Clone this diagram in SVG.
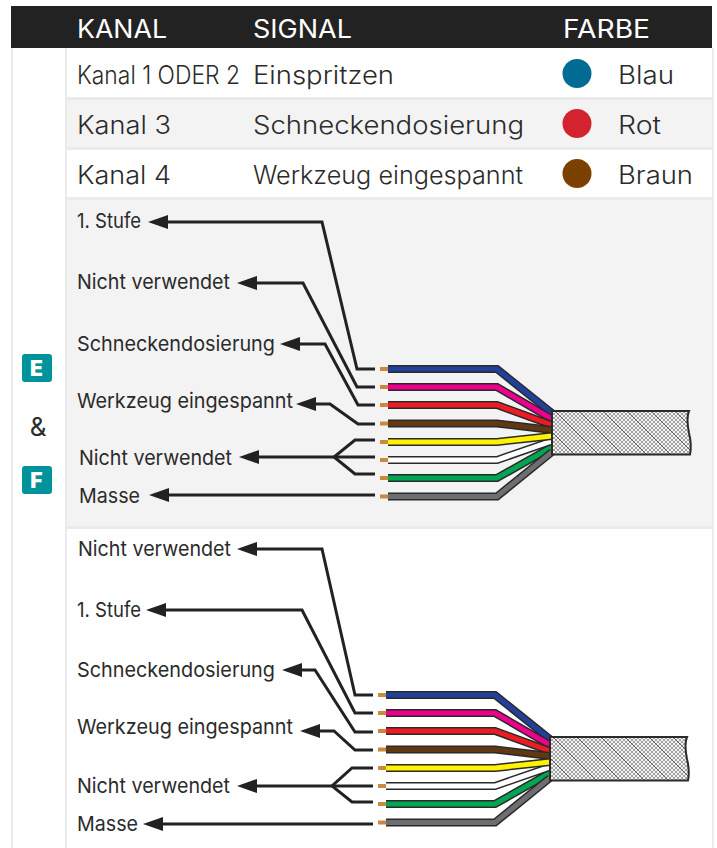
<svg xmlns="http://www.w3.org/2000/svg" width="717" height="848" viewBox="0 0 717 848">
<style>
text{font-family:"Inter","Liberation Sans",sans-serif;fill:#2b2b2b;font-weight:300}
.h{font-size:25px;fill:#fff;font-weight:400}
.r{font-size:25px}
.l{font-size:20.500px;font-weight:400}
.lead{fill:none;stroke:#222;stroke-width:3}
.tip{fill:#c98a3e}
.w0{fill:none;stroke:#2a2a2a;stroke-width:8;stroke-linejoin:miter}
.w1{fill:none;stroke-width:5}
.cab{fill:url(#hatch);stroke:#2a2a2a;stroke-width:2}
.line{fill:#ebebeb}
.badge{fill:#00939b}
.bt{fill:#fff;font-weight:900;font-size:21px}
</style>
<defs>
<marker id="arr" markerUnits="userSpaceOnUse" markerWidth="20" markerHeight="14" refX="8" refY="7" orient="0" viewBox="0 0 20 14"><path d="M20 0L0 7L20 14Z" fill="#222"/></marker>
<pattern id="hatch" patternUnits="userSpaceOnUse" width="24" height="24">
<rect width="24" height="24" fill="#f4f4f4"/>
<path d="M4 0L0 4M8 0L0 8M12 0L0 12M16 0L0 16M20 0L0 20M24 0L0 24M24 4L4 24M24 8L8 24M24 12L12 24M24 16L16 24M24 20L20 24" stroke="#8a8a8a" stroke-width=".8"/>
<path d="M0 20L4 24M0 16L8 24M0 12L12 24M0 8L16 24M0 4L20 24M0 0L24 24M4 0L24 20M8 0L24 16M12 0L24 12M16 0L24 8M20 0L24 4" stroke="#8a8a8a" stroke-width=".8"/>
<path d="M0 0L24 24M-12 12L12 36M12 -12L36 12" stroke="#4a4a4a" stroke-width=".8"/>
</pattern>
<g id="cable">
<path class="w0" d="M388 369H497L552 413"/><path class="w1" stroke="#21409a" d="M388 369H497L552 413"/>
<path class="w0" d="M388 387H497L552 419"/><path class="w1" stroke="#ec008c" d="M388 387H497L552 419"/>
<path class="w0" d="M388 405H497L552 425"/><path class="w1" stroke="#ed1c24" d="M388 405H497L552 425"/>
<path class="w0" d="M388 423.500H497L552 430"/><path class="w1" stroke="#603913" d="M388 423.500H497L552 430"/>
<path class="w0" d="M388 478H497L552 447"/><path class="w1" stroke="#00a651" d="M388 478H497L552 447"/>
<path class="w0" d="M388 496.500H497L552 452"/><path class="w1" stroke="#6d6e71" d="M388 496.500H497L552 452"/>
<path class="w0" d="M388 460H497L552 441"/><path class="w1" stroke="#fff" d="M388 460H497L552 441"/>
<path class="w0" d="M388 442H497L552 436"/><path class="w1" stroke="#fff200" d="M388 442H497L552 436"/>
<rect class="tip" x="380" y="367" width="8" height="4"/><rect class="tip" x="380" y="385" width="8" height="4"/><rect class="tip" x="380" y="403" width="8" height="4"/><rect class="tip" x="380" y="421.500" width="8" height="4"/><rect class="tip" x="380" y="440" width="8" height="4"/><rect class="tip" x="380" y="458" width="8" height="4"/><rect class="tip" x="380" y="476" width="8" height="4"/><rect class="tip" x="380" y="494.500" width="8" height="4"/>
<path class="cab" d="M552 411H689Q686 418 689 433Q692 445 690 454.500H552Z"/>
</g>
</defs>
<rect width="717" height="848" fill="#fff"/>
<g id="table">
<rect class="line" x="11" y="48" width="2" height="800"/>
<rect class="line" x="65" y="48" width="2" height="800"/>
<rect class="line" x="712" y="48" width="2" height="800"/>
<rect class="line" x="67" y="97" width="645" height="3"/>
<rect x="67" y="100" width="645" height="47" fill="#f3f3f3"/>
<rect class="line" x="67" y="147" width="645" height="3"/>
<rect class="line" x="67" y="197" width="645" height="3"/>
<rect x="67" y="200" width="645" height="326" fill="#f3f3f3"/>
<rect class="line" x="67" y="526" width="645" height="3"/>
<rect x="11" y="6" width="701" height="42" fill="#222"/>
<text class="h" x="77" y="38" textLength="90" lengthAdjust="spacingAndGlyphs">KANAL</text>
<text class="h" x="253" y="38" textLength="99" lengthAdjust="spacingAndGlyphs">SIGNAL</text>
<text class="h" x="563" y="38" textLength="87" lengthAdjust="spacingAndGlyphs">FARBE</text>
<text class="r" x="77" y="84" textLength="163" lengthAdjust="spacingAndGlyphs">Kanal 1 ODER 2</text>
<text class="r" x="253" y="84" textLength="141" lengthAdjust="spacingAndGlyphs">Einspritzen</text>
<text class="r" x="618" y="84" textLength="56" lengthAdjust="spacingAndGlyphs">Blau</text>
<text class="r" x="77" y="134" textLength="94" lengthAdjust="spacingAndGlyphs">Kanal 3</text>
<text class="r" x="253" y="134" textLength="271" lengthAdjust="spacingAndGlyphs">Schneckendosierung</text>
<text class="r" x="618" y="134" textLength="43" lengthAdjust="spacingAndGlyphs">Rot</text>
<text class="r" x="77" y="184" textLength="94" lengthAdjust="spacingAndGlyphs">Kanal 4</text>
<text class="r" x="253" y="184" textLength="270" lengthAdjust="spacingAndGlyphs">Werkzeug eingespannt</text>
<text class="r" x="618" y="184" textLength="75" lengthAdjust="spacingAndGlyphs">Braun</text>
<circle cx="577" cy="73.500" r="14.500" fill="#006c93"/>
<circle cx="577" cy="123.500" r="14.500" fill="#d2232e"/>
<circle cx="577" cy="173.500" r="14.500" fill="#7c4000"/>
</g>
<g id="badges">
<rect class="badge" x="22" y="354" width="30" height="28" rx="3"/>
<text class="bt" x="36.500" y="376" text-anchor="middle">E</text>
<text x="38" y="436" text-anchor="middle" style="font-size:26px;font-weight:400">&amp;</text>
<rect class="badge" x="22" y="466" width="30" height="28" rx="3"/>
<text class="bt" x="36.500" y="488" text-anchor="middle">F</text>
</g>
<g id="cable-top"><use href="#cable"/></g>
<g id="cable-bottom"><use href="#cable" x="-2" y="326"/></g>
<g id="connectors">
<path class="lead" marker-start="url(#arr)" d="M156 222H322L357 369H375"/>
<path class="lead" marker-start="url(#arr)" d="M245 283H303L357 387H375"/>
<path class="lead" marker-start="url(#arr)" d="M288 344H325L358 405H375"/>
<path class="lead" marker-start="url(#arr)" d="M304 404H330L358 424H375"/>
<path class="lead" marker-start="url(#arr)" d="M247 457H375"/>
<path class="lead" d="M375 440H355L334 457L355 474H375"/>
<path class="lead" marker-start="url(#arr)" d="M157 495H375"/>
<path class="lead" marker-start="url(#arr)" d="M245 549H322L355 695H373"/>
<path class="lead" marker-start="url(#arr)" d="M154 610H302L355 713H373"/>
<path class="lead" marker-start="url(#arr)" d="M290 670H315L355 732H373"/>
<path class="lead" marker-start="url(#arr)" d="M308 731H334L355 750H373"/>
<path class="lead" marker-start="url(#arr)" d="M245 786H373"/>
<path class="lead" d="M373 768H352L332 786L352 802H373"/>
<path class="lead" marker-start="url(#arr)" d="M151 824H373"/>
</g>
<g id="labels">
<text class="l" x="77" y="228" textLength="64" lengthAdjust="spacingAndGlyphs">1. Stufe</text>
<text class="l" x="77" y="289" textLength="153" lengthAdjust="spacingAndGlyphs">Nicht verwendet</text>
<text class="l" x="77" y="351" textLength="198" lengthAdjust="spacingAndGlyphs">Schneckendosierung</text>
<text class="l" x="77" y="408" textLength="216" lengthAdjust="spacingAndGlyphs">Werkzeug eingespannt</text>
<text class="l" x="79" y="465" textLength="153" lengthAdjust="spacingAndGlyphs">Nicht verwendet</text>
<text class="l" x="79" y="503" textLength="61" lengthAdjust="spacingAndGlyphs">Masse</text>
<text class="l" x="78" y="556" textLength="153" lengthAdjust="spacingAndGlyphs">Nicht verwendet</text>
<text class="l" x="77" y="617" textLength="64" lengthAdjust="spacingAndGlyphs">1. Stufe</text>
<text class="l" x="77" y="677" textLength="198" lengthAdjust="spacingAndGlyphs">Schneckendosierung</text>
<text class="l" x="77" y="734" textLength="216" lengthAdjust="spacingAndGlyphs">Werkzeug eingespannt</text>
<text class="l" x="77" y="793" textLength="153" lengthAdjust="spacingAndGlyphs">Nicht verwendet</text>
<text class="l" x="77" y="831" textLength="61" lengthAdjust="spacingAndGlyphs">Masse</text>
</g>
</svg>
